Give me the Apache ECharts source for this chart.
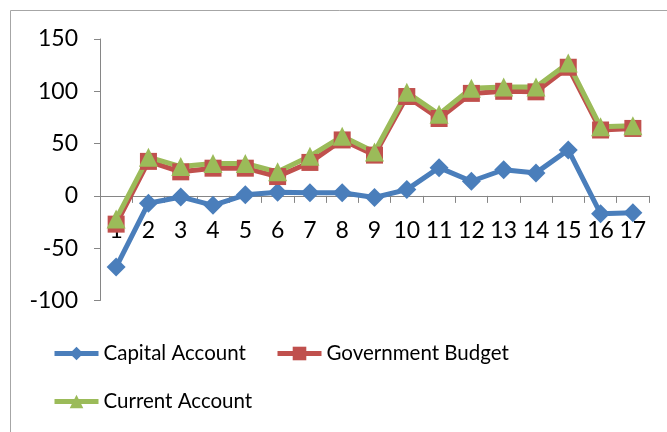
<!DOCTYPE html>
<html><head><meta charset="utf-8">
<script src="https://cdn.jsdelivr.net/npm/echarts@6/dist/echarts.min.js"></script>
<style>html,body{margin:0;padding:0;background:#fff}#c{width:667px;height:432px}</style>
</head><body><div id="c"></div>
<script>
const categories = ['1','2','3','4','5','6','7','8','9','10','11','12','13','14','15','16','17'];
const capitalAccount = [-68, -7, -1, -9, 1, 3.5, 3, 3, -1.5, 6, 27, 14, 25, 22, 44, -17, -16];
const governmentBudget = [-27, 33, 23, 26.5, 26.5, 18.5, 32, 53.5, 39, 95, 74, 98, 100, 99.5, 123, 63, 64.5];
const currentAccount = [-22, 37, 28, 31, 31, 23, 38, 57, 42, 99, 78, 103, 104, 104, 127, 66, 67];
const yTicks = [-100, 150, 50];

const FONT = 'Lato';
const chart = echarts.init(document.getElementById('c'));
const legendText = {fontFamily: FONT, fontSize: 20.5, color: '#000'};
function mkLegend(name, left, top) {
  return {data: [name], left: left, top: top, itemWidth: 44, itemHeight: 17, itemGap: 0, padding: 0,
    textStyle: legendText, selectedMode: false, lineStyle: {width: 5}};
}
const gridTop = 39, gridBottom = 131.5;
const plotH = 432 - gridTop - gridBottom;
const zeroOffset = -plotH * (0 - yTicks[0]) / (yTicks[1] - yTicks[0]);
chart.setOption({
  animation: false,
  graphic: [{type: 'rect', shape: {x: 10.5, y: 10.5, width: 700, height: 500},
    style: {fill: 'none', stroke: '#a6a6a6', lineWidth: 1}, silent: true}],
  grid: {left: 100, right: 18, top: gridTop, bottom: gridBottom, containLabel: false},
  legend: [mkLegend('Capital Account', 52, 343), mkLegend('Government Budget', 275, 343), mkLegend('Current Account', 52, 391)],
  xAxis: {type: 'category', data: categories, boundaryGap: true, offset: zeroOffset,
    axisLine: {onZero: false, lineStyle: {color: '#868686', width: 1}},
    axisTick: {show: true, length: 7, lineStyle: {color: '#868686'}},
    axisLabel: {margin: 23, fontFamily: FONT, fontSize: 23, color: '#000', interval: 0},
    splitLine: {show: false}},
  yAxis: {type: 'value', min: yTicks[0], max: yTicks[1], interval: yTicks[2],
    axisLine: {show: true, lineStyle: {color: '#868686', width: 1}},
    axisTick: {show: true, length: 6, lineStyle: {color: '#868686'}},
    axisLabel: {margin: 22, fontFamily: FONT, fontSize: 23, color: '#000'},
    splitLine: {show: false}},
  series: [
    {name: 'Capital Account', type: 'line', data: capitalAccount, symbol: 'diamond', symbolSize: 19,
      lineStyle: {color: '#4a7ebb', width: 5}, itemStyle: {color: '#4a7ebb'}},
    {name: 'Government Budget', type: 'line', data: governmentBudget, symbol: 'rect', symbolSize: 17,
      lineStyle: {color: '#c0504d', width: 5}, itemStyle: {color: '#c0504d'}},
    {name: 'Current Account', type: 'line', data: currentAccount, symbol: 'triangle', symbolSize: 19,
      lineStyle: {color: '#9bbb59', width: 5}, itemStyle: {color: '#9bbb59'}}
  ]
});
</script></body></html>
